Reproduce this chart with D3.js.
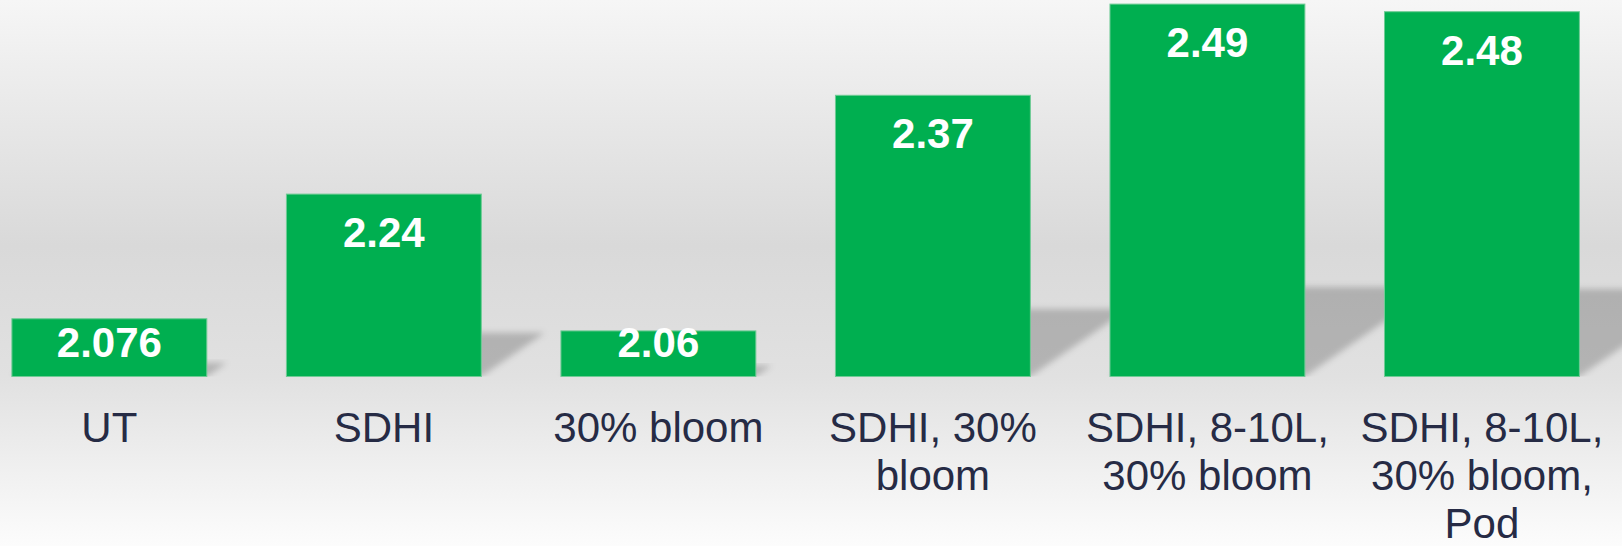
<!DOCTYPE html>
<html>
<head>
<meta charset="utf-8">
<script src="https://cdn.jsdelivr.net/npm/d3@7"></script>
<style>
body { margin: 0; overflow: hidden; background: #fff; }
text { font-family: "Liberation Sans", Arial, sans-serif; }
</style>
</head>
<body>
<svg id="chart"></svg>
<script>
// chart data
var categories = ["UT", "SDHI", "30% bloom", "SDHI, 30% bloom", "SDHI, 8-10L, 30% bloom", "SDHI, 8-10L, 30% bloom, Pod"];
var values = [2.076, 2.24, 2.06, 2.37, 2.49, 2.48];
var valueLabels = ["2.076", "2.24", "2.06", "2.37", "2.49", "2.48"];
var tickLines = [["UT"], ["SDHI"], ["30% bloom"], ["SDHI, 30%", "bloom"], ["SDHI, 8-10L,", "30% bloom"], ["SDHI, 8-10L,", "30% bloom,", "Pod"]];
var yDomain = [2.0, 2.5];

var width = 1622,
    height = 546;

var svg = d3.select("#chart")
    .attr("width", width)
    .attr("height", height);

var defs = svg.append("defs");

// grey backdrop, darkest a bit above the bar floor
var bg = defs.append("linearGradient")
    .attr("id", "bg")
    .attr("x1", 0).attr("y1", 0)
    .attr("x2", 0).attr("y2", 1);
bg.append("stop").attr("offset", "0").attr("stop-color", "#f6f6f6");
bg.append("stop").attr("offset", "0.12").attr("stop-color", "#eeeeee");
bg.append("stop").attr("offset", "0.45").attr("stop-color", "#d9d9d9");
bg.append("stop").attr("offset", "0.69").attr("stop-color", "#e1e1e1");
bg.append("stop").attr("offset", "1").attr("stop-color", "#fcfcfc");

defs.append("filter")
    .attr("id", "blur")
    .attr("x", "-20%").attr("y", "-20%")
    .attr("width", "140%").attr("height", "140%")
    .append("feGaussianBlur")
    .attr("stdDeviation", 3);

var x = d3.scaleBand()
    .domain(categories)
    .range([11.9, 1579.4])
    .paddingInner(0.29)
    .paddingOuter(0);

var y = d3.scaleLinear()
    .domain(yDomain)
    .range([376.5, -3.5]);

var base = y(yDomain[0]);

defs.append("clipPath")
    .attr("id", "floor")
    .append("rect")
    .attr("x", 0).attr("y", 0)
    .attr("width", width).attr("height", base);

svg.append("rect")
    .attr("width", width)
    .attr("height", height)
    .attr("fill", "url(#bg)");

var data = categories.map(function(c, i) {
    return {cat: c, value: values[i], label: valueLabels[i]};
});

// perspective shadows falling up and to the right
svg.append("g")
    .attr("clip-path", "url(#floor)")
    .selectAll("path")
    .data(data)
    .enter().append("path")
    .attr("d", function(d) {
        var x0 = x(d.cat),
            x1 = x0 + x.bandwidth(),
            hs = (base - y(d.value)) * 0.24,
            s = hs * 1.45;
        return "M" + x0 + "," + base +
            "L" + x1 + "," + base +
            "L" + (x1 + s) + "," + (base - hs) +
            "L" + (x0 + s) + "," + (base - hs) + "Z";
    })
    .attr("fill", "rgba(0,0,0,0.2)")
    .attr("filter", "url(#blur)");

svg.append("g")
    .selectAll("rect")
    .data(data)
    .enter().append("rect")
    .attr("x", function(d) { return x(d.cat); })
    .attr("y", function(d) { return y(d.value); })
    .attr("width", x.bandwidth())
    .attr("height", function(d) { return base - y(d.value); })
    .attr("fill", "#00af50")
    .attr("stroke", "#6fcb95")
    .attr("stroke-width", 1);

svg.append("g")
    .selectAll("text")
    .data(data)
    .enter().append("text")
    .attr("x", function(d) { return x(d.cat) + x.bandwidth() / 2; })
    .attr("y", function(d) { return Math.min(y(d.value) + 53, base - 20); })
    .attr("text-anchor", "middle")
    .attr("fill", "#ffffff")
    .style("font-size", "42px")
    .style("font-weight", "bold")
    .text(function(d) { return d.label; });

// category axis, no line and no ticks
var axis = svg.append("g")
    .attr("transform", "translate(0," + base + ")")
    .call(d3.axisBottom(x).tickSize(0).tickPadding(0));

axis.select(".domain").remove();

axis.selectAll(".tick text")
    .attr("y", 0)
    .attr("dy", 0)
    .attr("fill", "#262b45")
    .style("font-size", "42px")
    .style("font-family", "'Liberation Sans', Arial, sans-serif")
    .text(null)
    .each(function(d, i) {
        var t = d3.select(this);
        tickLines[i].forEach(function(line, j) {
            t.append("tspan")
                .attr("x", 0)
                .attr("y", 65.2 + j * 48.3)
                .text(line);
        });
    });
</script>
</body>
</html>
